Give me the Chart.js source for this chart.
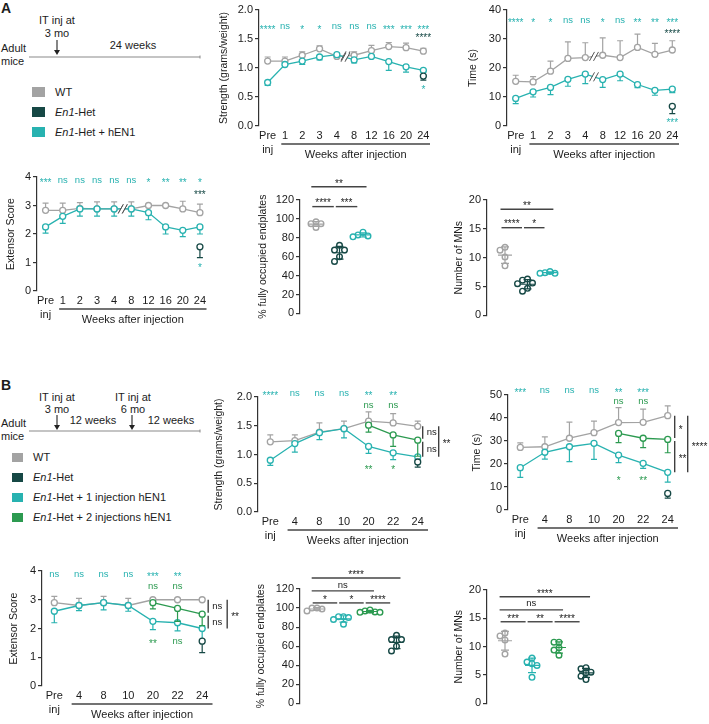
<!DOCTYPE html>
<html>
<head>
<meta charset="utf-8">
<script src="https://cdn.jsdelivr.net/npm/chart.js@4.4.1/dist/chart.umd.min.js"></script>
<style>
  body { margin: 0; width: 709px; height: 724px; position: relative; overflow: hidden; background: #fff; }
  canvas { position: absolute; }
  svg { position: absolute; left: 0; top: 0; }
  svg text { font-family: "Liberation Sans", Arial, sans-serif; font-size: 11px; fill: #1c1c1c; }
</style>
</head>
<body>
<svg width="240" height="724">
  <!-- panel A schematic -->
  <text x="1" y="13" style="font-weight:bold;font-size:14px">A</text>
  <text x="57" y="24" text-anchor="middle">IT inj at</text>
  <text x="57" y="37" text-anchor="middle">3 mo</text>
  <line x1="57" y1="40" x2="57" y2="51" stroke="#222" stroke-width="1.1"/>
  <path d="M54,50 L60,50 L57,55 Z" fill="#222"/>
  <text x="133" y="49" text-anchor="middle">24 weeks</text>
  <line x1="29" y1="57" x2="200" y2="57" stroke="#8a8a8a" stroke-width="1.2"/>
  <line x1="200" y1="55.5" x2="200" y2="58.5" stroke="#8a8a8a" stroke-width="1"/>
  <text x="1" y="52">Adult</text>
  <text x="1" y="65">mice</text>
  <rect x="32" y="87" width="13" height="10" fill="#a3a3a3"/>
  <text x="55" y="96">WT</text>
  <rect x="32" y="107" width="13" height="10" fill="#164845"/>
  <text x="55" y="116"><tspan font-style="italic">En1</tspan>-Het</text>
  <rect x="32" y="127" width="13" height="10" fill="#28b2b0"/>
  <text x="55" y="136"><tspan font-style="italic">En1</tspan>-Het + hEN1</text>

  <!-- panel B schematic -->
  <text x="1" y="390" style="font-weight:bold;font-size:14px">B</text>
  <text x="57" y="401" text-anchor="middle">IT inj at</text>
  <text x="57" y="413" text-anchor="middle">3 mo</text>
  <line x1="57" y1="415" x2="57" y2="426" stroke="#222" stroke-width="1.1"/>
  <path d="M54,425 L60,425 L57,430 Z" fill="#222"/>
  <text x="133" y="401" text-anchor="middle">IT inj at</text>
  <text x="133" y="413" text-anchor="middle">6 mo</text>
  <line x1="132" y1="415" x2="132" y2="426" stroke="#222" stroke-width="1.1"/>
  <path d="M129,425 L135,425 L132,430 Z" fill="#222"/>
  <text x="93" y="424" text-anchor="middle">12 weeks</text>
  <text x="171" y="424" text-anchor="middle">12 weeks</text>
  <line x1="29" y1="431" x2="200" y2="431" stroke="#8a8a8a" stroke-width="1.2"/>
  <line x1="200" y1="429.5" x2="200" y2="432.5" stroke="#8a8a8a" stroke-width="1"/>
  <text x="1" y="427">Adult</text>
  <text x="1" y="440">mice</text>
  <rect x="12" y="453" width="11" height="9" fill="#a3a3a3"/>
  <text x="33" y="461">WT</text>
  <rect x="12" y="473" width="11" height="9" fill="#164845"/>
  <text x="33" y="481"><tspan font-style="italic">En1</tspan>-Het</text>
  <rect x="12" y="493" width="11" height="9" fill="#28b2b0"/>
  <text x="33" y="501"><tspan font-style="italic">En1</tspan>-Het + 1 injection hEN1</text>
  <rect x="12" y="513" width="11" height="9" fill="#2c9a50"/>
  <text x="33" y="521"><tspan font-style="italic">En1</tspan>-Het + 2 injections hEN1</text>
</svg>
<script>
const GRAY = '#a3a3a3';
const DARK = '#164845';
const TEAL = '#28b2b0';
const GREEN = '#2c9a50';
const INK = '#1c1c1c';
const FONT = '"Liberation Sans", Arial, Helvetica, sans-serif';

// ---------- Panel A: single injection, 24 weeks ----------
const weeksA = [['Pre', 'inj'], '1', '2', '3', '4', '8', '12', '16', '20', '24'];

const strengthA_wt = [1.12, 1.12, 1.22, 1.33, 1.20, 1.22, 1.30, 1.37, 1.35, 1.29];
const strengthA_wtErr = [0.07, 0.07, 0.06, 0.05, 0.02, 0.06, 0.09, 0.07, 0.08, 0.05];
const strengthA_hen1 = [0.75, 1.06, 1.12, 1.19, 1.23, 1.14, 1.20, 1.11, 1.02, 0.96];
const strengthA_hen1Err = [0.05, 0.02, 0.06, 0.05, 0.02, 0.05, 0.02, 0.15, 0.09, 0.03];
const strengthA_het = [null, null, null, null, null, null, null, null, null, 0.86];
const strengthA_hetErr = [0, 0, 0, 0, 0, 0, 0, 0, 0, 0.07];
const strengthA_sigHen1 = ['****', 'ns', '*', '*', 'ns', 'ns', 'ns', '***', '***', '***'];
const strengthA_sigHet = ['', '', '', '', '', '', '', '', '', '****'];
const strengthA_sigHetHen1 = ['', '', '', '', '', '', '', '', '', '*'];

const timeA_wt = [15.4, 15.2, 18.9, 23.3, 23.6, 24.4, 23.6, 27.1, 24.7, 26.2];
const timeA_wtErr = [2.1, 1.8, 3.5, 5.7, 5.1, 6.0, 5.8, 4.6, 3.8, 3.2];
const timeA_hen1 = [9.5, 11.8, 13.3, 16.1, 17.9, 16.0, 17.9, 14.3, 12.3, 12.7];
const timeA_hen1Err = [1.8, 1.8, 2.5, 2.4, 3.3, 2.7, 2.3, 1.1, 1.7, 1.2];
const timeA_het = [null, null, null, null, null, null, null, null, null, 6.8];
const timeA_hetErr = [0, 0, 0, 0, 0, 0, 0, 0, 0, 2.5];
const timeA_sigHen1 = ['****', '*', '*', 'ns', 'ns', '*', 'ns', '**', '**', '***'];
const timeA_sigHet = ['', '', '', '', '', '', '', '', '', '****'];
const timeA_sigHetHen1 = ['', '', '', '', '', '', '', '', '', '***'];

const extA_wt = [2.83, 2.83, 2.90, 2.88, 2.88, 2.88, 3.00, 3.00, 2.88, 2.75];
const extA_wtErr = [0.25, 0.25, 0.20, 0.25, 0.25, 0.25, 0, 0, 0.27, 0.30];
const extA_hen1 = [2.25, 2.62, 2.88, 2.88, 2.88, 2.88, 2.75, 2.25, 2.13, 2.25];
const extA_hen1Err = [0.22, 0.25, 0.25, 0.25, 0.25, 0.25, 0.25, 0.25, 0.22, 0.25];
const extA_het = [null, null, null, null, null, null, null, null, null, 1.55];
const extA_hetErr = [0, 0, 0, 0, 0, 0, 0, 0, 0, 0.38];
const extA_sigHen1 = ['***', 'ns', 'ns', 'ns', 'ns', 'ns', '*', '**', '**', '*'];
const extA_sigHet = ['', '', '', '', '', '', '', '', '', '***'];
const extA_sigHetHen1 = ['', '', '', '', '', '', '', '', '', '*'];

const endplatesA_wt = [97, 95, 95, 91];
const endplatesA_het = [72, 67, 67, 60, 55];
const endplatesA_hen1 = [86, 83, 82, 81];
const endplatesA_pairs = [[0, 2], [0, 1], [1, 2]];
const endplatesA_sig = ['**', '****', '***'];

const mnsA_wt = [11.8, 11.3, 10.1, 8.6];
const mnsA_het = [6.1, 6.3, 5.5, 5.6, 4.7, 4.2];
const mnsA_hen1 = [7.3, 7.6, 7.4, 7.3];
const mnsA_pairs = [[0, 2], [0, 1], [1, 2]];
const mnsA_sig = ['**', '****', '*'];

// ---------- Panel B: one vs two injections ----------
const weeksB = [['Pre', 'inj'], '4', '8', '10', '20', '22', '24'];

const strengthB_wt = [1.22, 1.24, 1.39, 1.45, 1.58, 1.55, 1.49];
const strengthB_wtErr = [0.12, 0.10, 0.16, 0.13, 0.16, 0.16, 0.09];
const strengthB_one = [0.90, 1.19, 1.38, 1.45, 1.14, 1.03, 0.96];
const strengthB_oneErr = [0.09, 0.15, 0.12, 0.16, 0.12, 0.12, 0.05];
const strengthB_two = [null, null, null, null, 1.51, 1.34, 1.25];
const strengthB_twoErr = [0, 0, 0, 0, 0.12, 0.20, 0.28];
const strengthB_het = [null, null, null, null, null, null, 0.87];
const strengthB_hetErr = [0, 0, 0, 0, 0, 0, 0.09];
const strengthB_sigOne = ['****', 'ns', 'ns', 'ns', '**', '**', ''];
const strengthB_sigTwo = ['', '', '', '', 'ns', 'ns', ''];
const strengthB_sigTwoOne = ['', '', '', '', '**', '*', ''];
const strengthB_endSig = ['ns', 'ns', '**'];

const timeB_wt = [27.2, 27.5, 31.2, 33.6, 38.0, 38.1, 41.0];
const timeB_wtErr = [2.0, 4.3, 7.0, 5.0, 6.5, 5.8, 4.3];
const timeB_one = [18.4, 25.1, 27.5, 29.0, 23.9, 20.3, 16.4];
const timeB_oneErr = [4.2, 3.0, 6.5, 7.0, 3.3, 2.2, 4.3];
const timeB_two = [null, null, null, null, 33.3, 31.2, 30.7];
const timeB_twoErr = [0, 0, 0, 0, 4.0, 4.1, 5.8];
const timeB_het = [null, null, null, null, null, null, 7.2];
const timeB_hetErr = [0, 0, 0, 0, 0, 0, 2.0];
const timeB_sigOne = ['***', 'ns', 'ns', 'ns', '**', '***', ''];
const timeB_sigTwo = ['', '', '', '', 'ns', 'ns', ''];
const timeB_sigTwoOne = ['', '', '', '', '*', '**', ''];
const timeB_endSig = ['*', '**', '****'];

const extB_wt = [2.90, 2.80, 2.90, 2.80, 3.00, 3.00, 3.00];
const extB_wtErr = [0.22, 0.25, 0.22, 0.25, 0, 0, 0];
const extB_one = [2.60, 2.80, 2.90, 2.80, 2.25, 2.20, 2.00];
const extB_oneErr = [0.40, 0.18, 0.25, 0.20, 0.29, 0.28, 0.40];
const extB_two = [null, null, null, null, 2.90, 2.70, 2.50];
const extB_twoErr = [0, 0, 0, 0, 0.22, 0.45, 0.40];
const extB_het = [null, null, null, null, null, null, 1.56];
const extB_hetErr = [0, 0, 0, 0, 0, 0, 0.40];
const extB_sigOne = ['ns', 'ns', 'ns', 'ns', '***', '**', ''];
const extB_sigTwo = ['', '', '', '', 'ns', 'ns', ''];
const extB_sigTwoOne = ['', '', '', '', '**', 'ns', ''];
const extB_endSig = ['ns', 'ns', '**'];

const endplatesB_wt = [97, 100, 99, 100];
const endplatesB_one = [91, 91, 90, 88, 83];
const endplatesB_two = [97, 95.5, 98, 96, 95.5];
const endplatesB_het = [71.5, 67, 67, 60, 55];
const endplatesB_pairs = [[0, 3], [0, 2], [0, 1], [1, 2], [2, 3]];
const endplatesB_sig = ['****', 'ns', '*', '*', '****'];

const mnsB_wt = [11.9, 12.4, 11.2, 8.7];
const mnsB_one = [8.0, 7.3, 7.0, 6.7, 4.6];
const mnsB_two = [10.8, 10.8, 9.8, 9.4, 8.5];
const mnsB_het = [6.1, 6.3, 5.5, 4.8, 4.2, 5.4];
const mnsB_pairs = [[0, 3], [0, 2], [0, 1], [1, 2], [2, 3]];
const mnsB_sig = ['****', 'ns', '***', '**', '****'];

// ---------- helpers ----------
Chart.defaults.font.family = FONT;
Chart.defaults.color = INK;

function place(left, top, w, h) {
  const c = document.createElement('canvas');
  c.width = w; c.height = h;
  c.style.left = left + 'px'; c.style.top = top + 'px';
  c.style.width = w + 'px'; c.style.height = h + 'px';
  document.body.appendChild(c);
  return c;
}

function label(ctx, text, x, y, color, align) {
  if (!text) return;
  const stars = text.indexOf('*') >= 0;
  ctx.fillStyle = color;
  ctx.font = (stars ? '10px ' : '9.5px ') + FONT;
  ctx.textAlign = align || 'center';
  ctx.textBaseline = 'middle';
  ctx.fillText(text, x, y + (stars ? 3 : 0));
}

function yAxis(o) {
  return {
    min: 0, max: o.yMax,
    ticks: { stepSize: o.step, padding: 2, color: INK, font: { size: 11 },
             callback: v => o.decimals ? v.toFixed(1) : v },
    grid: { display: true, drawOnChartArea: false, drawTicks: true, tickLength: 4, color: '#333', lineWidth: 1.2 },
    border: { display: true, color: '#333', width: 1.2 },
    title: { display: true, text: o.yTitle, color: INK, font: { size: 10.5 }, padding: 0 },
    afterFit: s => { s.width = o.yw; }
  };
}

function lineChart(o) {
  const H_X = 44;
  const left = o.x0 - o.yw, top = o.y0 - o.padTop;
  const w = o.cRight - left, h = o.y1 - top + H_X;
  const canvas = place(left, top, w, h);
  const datasets = o.series.map((s, i) => ({
    data: s.data, err: s.err, dir: s.dir, order: 10 - i,
    borderColor: s.color, borderWidth: 1.3, backgroundColor: '#fff',
    pointRadius: 3, pointBorderWidth: 1.3, pointBackgroundColor: '#fff', pointBorderColor: s.color,
    showLine: s.line !== false, spanGaps: false, clip: false
  }));

  const extras = {
    id: 'extras',
    beforeDatasetDraw(chart, args) {
      const ds = chart.data.datasets[args.index];
      const ys = chart.scales.y, ctx = chart.ctx;
      ctx.save();
      ctx.strokeStyle = ds.borderColor; ctx.lineWidth = 1.2;
      args.meta.data.forEach((pt, i) => {
        const v = ds.data[i], e = ds.err[i];
        if (v == null || !e) return;
        const end = ys.getPixelForValue(v + ds.dir * e);
        ctx.beginPath();
        ctx.moveTo(pt.x, pt.y); ctx.lineTo(pt.x, end);
        ctx.moveTo(pt.x - 3, end); ctx.lineTo(pt.x + 3, end);
        ctx.stroke();
      });
      ctx.restore();
    },
    afterDatasetsDraw(chart) {
      const xs = chart.scales.x, ys = chart.scales.y, ctx = chart.ctx;
      ctx.save();
      // axis break marks between week 4 and week 8
      if (o.breakAt != null) {
        chart.data.datasets.forEach(ds => {
          const a = ds.data[o.breakAt], b = ds.data[o.breakAt + 1];
          if (a == null || b == null) return;
          const x = (xs.getPixelForValue(o.breakAt) + xs.getPixelForValue(o.breakAt + 1)) / 2;
          const y = (ys.getPixelForValue(a) + ys.getPixelForValue(b)) / 2;
          ctx.fillStyle = '#fff';
          ctx.beginPath();
          ctx.moveTo(x - 4, y + 4); ctx.lineTo(x + 1, y - 4); ctx.lineTo(x + 4, y - 4); ctx.lineTo(x - 1, y + 4);
          ctx.closePath(); ctx.fill();
          ctx.strokeStyle = '#555'; ctx.lineWidth = 1;
          ctx.beginPath();
          ctx.moveTo(x - 4.5, y + 4.5); ctx.lineTo(x + 0.5, y - 4.5);
          ctx.moveTo(x - 0.5, y + 4.5); ctx.lineTo(x + 4.5, y - 4.5);
          ctx.stroke();
        });
      }
      // significance rows
      o.notes.forEach(n => {
        n.texts.forEach((t, i) => label(ctx, t, xs.getPixelForValue(i), ys.getPixelForValue(n.level), n.color));
      });
      // vertical comparison bars at the last time point
      if (o.vbars) {
        const last = o.labels.length - 1;
        const xl = xs.getPixelForValue(last);
        ctx.strokeStyle = '#333'; ctx.lineWidth = 1.3;
        o.vbars.forEach(v => {
          const yA = ys.getPixelForValue(o.series[v.from].data[last]) + (v.gapA || 0);
          const yB = ys.getPixelForValue(o.series[v.to].data[last]) - (v.gapB || 0);
          const x = xl + v.dx;
          ctx.beginPath(); ctx.moveTo(x, yA); ctx.lineTo(x, yB); ctx.stroke();
          label(ctx, v.text, x + 4, (yA + yB) / 2, INK, 'left');
        });
      }
      ctx.restore();
    },
    afterDraw(chart) {
      const xs = chart.scales.x, ctx = chart.ctx, area = chart.chartArea;
      const sp = xs.getPixelForValue(1) - xs.getPixelForValue(0);
      const xa = xs.getPixelForValue(0) + sp / 2 + 5, xb = area.right - 2;
      const y = area.bottom + 18;
      ctx.save();
      ctx.strokeStyle = '#444'; ctx.lineWidth = 1.3;
      ctx.beginPath(); ctx.moveTo(xa, y); ctx.lineTo(xb, y); ctx.stroke();
      ctx.fillStyle = INK; ctx.font = '11px ' + FONT;
      ctx.textAlign = 'center'; ctx.textBaseline = 'middle';
      ctx.fillText('Weeks after injection', (xa + xb) / 2, y + 11);
      ctx.restore();
    }
  };

  new Chart(canvas, {
    type: 'line',
    data: { labels: o.labels, datasets },
    options: {
      responsive: false, animation: false, events: [],
      layout: { padding: { top: o.padTop, right: o.cRight - o.x1, left: 0, bottom: 0 } },
      plugins: { legend: { display: false }, tooltip: { enabled: false } },
      scales: {
        x: {
          offset: true,
          grid: { display: false, drawTicks: false }, border: { display: false },
          ticks: { color: INK, font: { size: 11, lineHeight: 1.25 }, padding: 3, autoSkip: false, maxRotation: 0 },
          afterFit: s => { s.height = H_X; }
        },
        y: yAxis(o)
      }
    },
    plugins: [extras]
  });
}

function swarm(vals, pxPerUnit) {
  const step = 5, minDist = 5;
  const order = vals.map((v, i) => i).sort((a, b) => vals[b] - vals[a]);
  const placed = [], offs = [];
  const cands = [0, -1, 1, -2, 2, -3, 3];
  order.forEach(i => {
    const yp = vals[i] * pxPerUnit;
    let best = 0, bestD = -1;
    for (const k of cands) {
      const xp = k * step;
      const d = placed.reduce((m, p) => Math.min(m, Math.hypot(p.x - xp, p.y - yp)), Infinity);
      if (d >= minDist) { best = xp; bestD = d; break; }
      if (d > bestD) { bestD = d; best = xp; }
    }
    placed.push({ x: best, y: yp });
    offs[i] = best;
  });
  return offs;
}

function dotChart(o) {
  const left = o.x0 - o.yw, top = o.y0 - o.padTop;
  const n = o.groups.length;
  const xmin = -(o.first - o.x0) / o.sp, xmax = n - 1 + 0.55;
  const x1 = o.x0 + (xmax - xmin) * o.sp;
  const w = Math.ceil(x1 + 10 - left), h = o.y1 - top + 8;
  const canvas = place(left, top, w, h);
  const pxPerUnit = (o.y1 - o.y0) / o.yMax;
  const datasets = o.groups.map((g, gi) => {
    const offs = swarm(g.vals, pxPerUnit);
    return {
      data: g.vals.map((v, k) => ({ x: gi + offs[k] / o.sp, y: v })),
      pointRadius: 2.8, pointBorderWidth: 1.4, pointBorderColor: g.color, pointBackgroundColor: '#fff'
    };
  });

  const extras = {
    id: 'dotExtras',
    afterDatasetsDraw(chart) {
      const xs = chart.scales.x, ys = chart.scales.y, ctx = chart.ctx;
      ctx.save();
      ctx.lineWidth = 1.2;
      o.groups.forEach((g, gi) => {
        const m = g.vals.reduce((a, b) => a + b, 0) / g.vals.length;
        const sd = Math.sqrt(g.vals.reduce((a, b) => a + (b - m) * (b - m), 0) / (g.vals.length - 1));
        const x = xs.getPixelForValue(gi);
        const ym = ys.getPixelForValue(m), yl = ys.getPixelForValue(m - sd), yh = ys.getPixelForValue(m + sd);
        ctx.strokeStyle = g.color;
        ctx.beginPath();
        ctx.moveTo(x - 7, ym); ctx.lineTo(x + 7, ym);
        ctx.moveTo(x, yl); ctx.lineTo(x, yh);
        ctx.moveTo(x - 4, yl); ctx.lineTo(x + 4, yl);
        ctx.moveTo(x - 4, yh); ctx.lineTo(x + 4, yh);
        ctx.stroke();
      });
      ctx.strokeStyle = '#444'; ctx.lineWidth = 1.4;
      o.pairs.forEach((p, k) => {
        const y = ys.getPixelForValue(o.levels[k]);
        const xa = xs.getPixelForValue(p[0]), xb = xs.getPixelForValue(p[1]);
        let s, e;
        if (p[1] - p[0] === 1) { s = xa - 0.2 * o.sp + 1; e = xb - 0.2 * o.sp - 1; }
        else { s = xa - 0.2 * o.sp; e = xb + 0.15 * o.sp; }
        ctx.beginPath(); ctx.moveTo(s, y); ctx.lineTo(e, y); ctx.stroke();
        label(ctx, o.sig[k], (s + e) / 2, y - 6, INK);
      });
      ctx.restore();
    }
  };

  new Chart(canvas, {
    type: 'scatter',
    data: { datasets },
    options: {
      responsive: false, animation: false, events: [],
      layout: { padding: { top: o.padTop, right: w - (x1 - left), left: 0, bottom: 8 } },
      plugins: { legend: { display: false }, tooltip: { enabled: false } },
      scales: {
        x: { type: 'linear', min: xmin, max: xmax, display: false },
        y: yAxis(o)
      }
    },
    plugins: [extras]
  });
}

// ---------- Panel A charts ----------
lineChart({
  x0: 259, y0: 10, y1: 126, x1: 432, cRight: 445, yw: 41, padTop: 10,
  yMax: 2, step: 0.5, decimals: true, yTitle: 'Strength (grams/weight)',
  labels: weeksA, breakAt: 4,
  series: [
    { data: strengthA_wt, err: strengthA_wtErr, color: GRAY, dir: 1 },
    { data: strengthA_hen1, err: strengthA_hen1Err, color: TEAL, dir: -1 },
    { data: strengthA_het, err: strengthA_hetErr, color: DARK, dir: -1 }
  ],
  notes: [
    { texts: strengthA_sigHen1, level: 1.71, color: TEAL },
    { texts: strengthA_sigHet, level: 1.56, color: DARK },
    { texts: strengthA_sigHetHen1, level: 0.66, color: TEAL }
  ]
});

lineChart({
  x0: 507, y0: 10, y1: 126, x1: 681, cRight: 705, yw: 40, padTop: 10,
  yMax: 40, step: 10, yTitle: 'Time (s)',
  labels: weeksA, breakAt: 4,
  series: [
    { data: timeA_wt, err: timeA_wtErr, color: GRAY, dir: 1 },
    { data: timeA_hen1, err: timeA_hen1Err, color: TEAL, dir: -1 },
    { data: timeA_het, err: timeA_hetErr, color: DARK, dir: -1 }
  ],
  notes: [
    { texts: timeA_sigHen1, level: 36.5, color: TEAL },
    { texts: timeA_sigHet, level: 32.8, color: DARK },
    { texts: timeA_sigHetHen1, level: 2.0, color: TEAL }
  ]
});

lineChart({
  x0: 37, y0: 177, y1: 291, x1: 208.5, cRight: 220, yw: 32, padTop: 12,
  yMax: 4, step: 1, yTitle: 'Extensor Score',
  labels: weeksA, breakAt: 4,
  series: [
    { data: extA_wt, err: extA_wtErr, color: GRAY, dir: 1 },
    { data: extA_hen1, err: extA_hen1Err, color: TEAL, dir: -1 },
    { data: extA_het, err: extA_hetErr, color: DARK, dir: -1 }
  ],
  notes: [
    { texts: extA_sigHen1, level: 3.88, color: TEAL },
    { texts: extA_sigHet, level: 3.47, color: DARK },
    { texts: extA_sigHetHen1, level: 0.9, color: TEAL }
  ]
});

dotChart({
  x0: 300, y0: 200, y1: 314, yw: 43, padTop: 28, first: 316, sp: 23.5,
  yMax: 120, step: 20, yTitle: '% fully occupied endplates',
  groups: [
    { vals: endplatesA_wt, color: GRAY },
    { vals: endplatesA_het, color: DARK },
    { vals: endplatesA_hen1, color: TEAL }
  ],
  pairs: endplatesA_pairs, sig: endplatesA_sig, levels: [134, 113, 113]
});

dotChart({
  x0: 487, y0: 200, y1: 316, yw: 34, padTop: 20, first: 505, sp: 22.5,
  yMax: 20, step: 5, yTitle: 'Number of MNs',
  groups: [
    { vals: mnsA_wt, color: GRAY },
    { vals: mnsA_het, color: DARK },
    { vals: mnsA_hen1, color: TEAL }
  ],
  pairs: mnsA_pairs, sig: mnsA_sig, levels: [18.4, 15.2, 15.2]
});

// ---------- Panel B charts ----------
lineChart({
  x0: 258, y0: 397, y1: 512, x1: 430, cRight: 465, yw: 45, padTop: 17,
  yMax: 2, step: 0.5, decimals: true, yTitle: 'Strength (grams/weight)',
  labels: weeksB,
  series: [
    { data: strengthB_wt, err: strengthB_wtErr, color: GRAY, dir: 1 },
    { data: strengthB_one, err: strengthB_oneErr, color: TEAL, dir: -1 },
    { data: strengthB_two, err: strengthB_twoErr, color: GREEN, dir: -1 },
    { data: strengthB_het, err: strengthB_hetErr, color: DARK, dir: -1 }
  ],
  notes: [
    { texts: strengthB_sigOne, level: 2.06, color: TEAL },
    { texts: strengthB_sigTwo, level: 1.86, color: GREEN },
    { texts: strengthB_sigTwoOne, level: 0.78, color: GREEN }
  ],
  vbars: [
    { from: 0, to: 2, dx: 5, gapB: 1.5, text: strengthB_endSig[0] },
    { from: 2, to: 1, dx: 5, gapA: 1.5, text: strengthB_endSig[1] },
    { from: 0, to: 1, dx: 21, text: strengthB_endSig[2] }
  ]
});

lineChart({
  x0: 508, y0: 395, y1: 510, x1: 680, cRight: 709, yw: 37, padTop: 15,
  yMax: 50, step: 10, yTitle: 'Time (s)',
  labels: weeksB,
  series: [
    { data: timeB_wt, err: timeB_wtErr, color: GRAY, dir: 1 },
    { data: timeB_one, err: timeB_oneErr, color: TEAL, dir: -1 },
    { data: timeB_two, err: timeB_twoErr, color: GREEN, dir: -1 },
    { data: timeB_het, err: timeB_hetErr, color: DARK, dir: -1 }
  ],
  notes: [
    { texts: timeB_sigOne, level: 52.2, color: TEAL },
    { texts: timeB_sigTwo, level: 47.1, color: GREEN },
    { texts: timeB_sigTwoOne, level: 13.8, color: GREEN }
  ],
  vbars: [
    { from: 0, to: 2, dx: 7, gapB: 1.5, text: timeB_endSig[0] },
    { from: 2, to: 1, dx: 7, gapA: 1.5, text: timeB_endSig[1] },
    { from: 0, to: 1, dx: 20, text: timeB_endSig[2] }
  ]
});

lineChart({
  x0: 42, y0: 571, y1: 686, x1: 214.5, cRight: 248, yw: 34, padTop: 16,
  yMax: 4, step: 1, yTitle: 'Extensor Score',
  labels: weeksB,
  series: [
    { data: extB_wt, err: extB_wtErr, color: GRAY, dir: 1 },
    { data: extB_one, err: extB_oneErr, color: TEAL, dir: -1 },
    { data: extB_two, err: extB_twoErr, color: GREEN, dir: -1 },
    { data: extB_het, err: extB_hetErr, color: DARK, dir: -1 }
  ],
  notes: [
    { texts: extB_sigOne, level: 3.88, color: TEAL },
    { texts: extB_sigTwo, level: 3.47, color: GREEN },
    { texts: extB_sigTwoOne, level: 1.54, color: GREEN }
  ],
  vbars: [
    { from: 0, to: 2, dx: 6, gapB: 1.5, text: extB_endSig[0] },
    { from: 2, to: 1, dx: 6, gapA: 1.5, text: extB_endSig[1] },
    { from: 0, to: 1, dx: 25, text: extB_endSig[2] }
  ]
});

dotChart({
  x0: 300, y0: 589, y1: 704, yw: 45, padTop: 29, first: 317, sp: 26.5,
  yMax: 120, step: 20, yTitle: '% fully occupied endplates',
  groups: [
    { vals: endplatesB_wt, color: GRAY },
    { vals: endplatesB_one, color: TEAL },
    { vals: endplatesB_two, color: GREEN },
    { vals: endplatesB_het, color: DARK }
  ],
  pairs: endplatesB_pairs, sig: endplatesB_sig, levels: [131.5, 118, 105.4, 105.4, 105.4]
});

dotChart({
  x0: 487, y0: 590, y1: 704, yw: 34, padTop: 15, first: 505, sp: 27,
  yMax: 20, step: 5, yTitle: 'Number of MNs',
  groups: [
    { vals: mnsB_wt, color: GRAY },
    { vals: mnsB_one, color: TEAL },
    { vals: mnsB_two, color: GREEN },
    { vals: mnsB_het, color: DARK }
  ],
  pairs: mnsB_pairs, sig: mnsB_sig, levels: [18.8, 16.5, 14.4, 14.4, 14.4]
});
</script>
</body>
</html>
